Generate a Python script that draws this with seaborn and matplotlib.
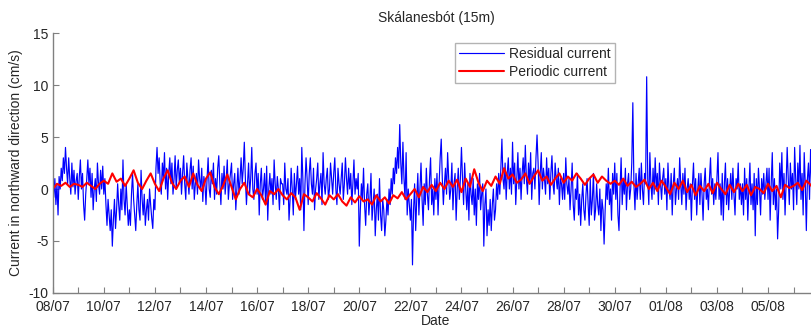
import numpy as np
import pandas as pd
import seaborn as sns
import matplotlib
matplotlib.use('Agg')
import matplotlib.pyplot as plt

# residual current, hourly from 08/07 00:00 (cm/s), one row per day
residual = [
    0.2, -0.8, 1.0, -1.5, 0.5, -2.5, 1.2, 0.0, 2.0, 0.8, 3.0, 1.5, 4.0, 2.0, 0.5, 3.0, 1.0, -0.5, 2.5, 0.2, 1.8, -0.5, 0.8, 1.5,
    -1.0, 1.2, 2.8, 0.0, 1.5, -1.5, -3.0, -0.5, 1.0, 2.8, 0.5, 2.0, -0.8, 1.5, -2.0, 0.0, 1.0, -1.2, 2.5, 0.5, -0.5, 1.8, 0.0, 2.2,
    -0.5, 1.0, -1.5, -3.5, -1.0, -2.5, -4.0, -2.0, -5.5, -3.0, -1.0, -3.8, -2.0, 0.5, -1.5, -3.0, 0.0, -2.0, 2.8, -1.0, -2.5, 0.5, -1.5, -3.5,
    -2.0, -3.5, -0.5, 1.5, -1.0, -2.5, -4.0, -1.5, 0.5, -2.0, -3.0, 1.8, -1.0, -2.5, -0.5, -3.5, -2.0, -1.0, -3.0, 0.0, -1.5, -2.8, -3.8, -1.0,
    -2.0, 2.0, 4.0, 1.5, 3.0, 0.5, -0.5, 2.5, 1.0, 3.5, 0.0, 2.0, -1.0, 1.5, 3.0, 0.5, 2.5, -0.5, 1.0, 3.2, 0.0, 1.8, 2.8, 0.5,
    2.0, -0.5, 1.5, 3.2, 0.5, -1.0, 2.5, 1.0, -0.5, 1.8, 3.0, 0.0, 2.2, -1.0, 0.5, 1.5, -0.5, 2.8, 1.0, 0.0, 2.0, -1.2, 1.2, 0.5,
    -1.5, 1.0, 3.0, 0.0, -0.8, 1.8, 0.5, 2.5, -1.0, 1.0, -0.5, 2.0, 3.2, 0.5, -1.5, 1.5, 0.0, 2.2, -0.5, 1.0, 2.8, -1.0, 0.5, 1.5,
    2.5, -1.0, 0.5, 1.5, -2.0, 0.0, 2.0, -0.5, 1.0, 3.0, 0.5, 2.0, 4.5, 1.0, -1.5, 0.5, 2.5, -0.5, 1.0, 4.0, 0.0, -1.0, 1.5, 2.5,
    -0.5, 1.5, -2.5, 0.5, 2.0, -1.0, 0.0, 1.5, -1.5, 2.2, -3.0, 0.0, 1.5, -0.5, 1.0, -1.5, 2.8, 0.5, -1.0, 1.2, 0.0, -2.0, 1.0, 0.5,
    0.5, -1.5, 2.5, 0.0, -0.5, 1.0, -3.0, -1.0, 2.0, 0.0, -2.5, 1.5, -1.0, 0.5, 2.2, -0.5, 1.0, -2.0, 4.0, 1.0, -4.0, 0.5, 3.0, 1.0,
    -1.5, 1.5, 3.0, 0.5, -0.5, 2.0, -2.0, 0.0, 1.0, 2.5, -1.0, 0.5, 1.5, -1.5, 3.5, 0.5, -0.5, 1.0, 2.0, -1.0, 0.0, 2.5, 1.0, -0.5,
    1.5, 3.0, 0.0, -1.5, 2.0, 0.5, -0.5, 1.0, 2.5, -1.0, 0.5, 3.0, 1.0, -0.5, 2.0, 0.0, 1.5, -1.5, 0.5, 2.8, -0.5, 1.0, 0.0, 1.5,
    -5.5, -2.0, 0.5, -1.0, 2.0, -1.5, -3.5, -0.5, 0.5, -2.5, -1.0, 1.5, -3.0, -1.5, 0.0, -4.5, -2.0, -0.5, -3.0, 1.0, -2.5, -4.0, -1.0, -2.0,
    -4.5, -3.0, -1.0, -2.5, 0.0, -1.5, 1.0, -0.5, 2.0, 0.5, 3.0, 1.5, 4.0, 2.0, 6.2, 2.5, 0.5, 4.5, 1.0, -1.0, 3.5, -2.5, 0.0, -1.5,
    -3.0, -1.0, -7.3, -2.0, 0.5, -4.0, -1.0, 1.5, -2.5, 0.0, 2.5, -1.0, -3.5, 0.5, -1.5, 2.0, -0.5, -2.0, 1.0, 3.0, -1.5, 0.0, -2.5, 1.0,
    -1.0, 1.5, -2.5, 0.5, 3.0, 4.8, 1.0, -1.5, 0.5, 2.0, -0.5, 3.5, 1.0, -1.0, 0.0, 2.5, -2.0, 0.5, 1.5, -3.0, 0.0, 2.0, -1.0, 1.0,
    4.0, 1.0, -1.5, 2.5, 0.0, -2.0, 0.5, -3.0, 1.5, -0.5, -1.5, 1.0, -2.5, 0.0, -3.5, 0.5, -1.0, 1.5, -2.0, -0.5, 0.5, -5.5, -1.5, 0.0,
    -4.5, -2.0, -3.5, -1.0, -4.0, -1.5, 0.0, -3.0, -2.0, 0.5, -1.0, 1.5, -0.5, 2.0, 4.8, 1.0, 0.0, 2.5, -1.0, 1.5, 3.0, 0.0, 2.0, -0.5,
    4.5, 0.5, 2.5, -1.5, 1.0, 3.5, 0.0, 2.0, -1.0, 1.5, 3.0, 0.5, 4.2, 1.0, -0.5, 2.5, 0.5, 3.5, -1.0, 1.5, 2.0, 0.0, 3.0, 5.2,
    2.5, -1.5, 1.5, 3.5, 0.0, 2.0, 1.0, -0.5, 3.0, 0.5, 2.0, -1.0, 1.5, 3.2, 0.5, -0.5, 2.5, 1.0, 0.0, 2.0, -1.5, 1.0, 0.5, -1.0,
    1.5, -1.0, 3.0, 0.5, -0.5, 1.0, -2.0, 0.0, 2.5, -1.5, -3.0, 0.0, -1.0, 1.5, -2.5, -0.5, -3.5, -1.0, 0.5, -2.0, -3.0, -0.5, 1.0, -1.5,
    -3.5, 1.0, -2.5, -1.0, 1.5, -3.0, -2.0, 0.5, -1.5, -2.5, 0.0, -4.0, -1.0, -2.0, -5.3, -2.0, 0.5, -1.0, 2.0, -1.5, 0.0, -3.0, 1.5, -0.5,
    2.5, -1.0, 1.5, -2.5, -4.0, 0.0, 3.0, -1.5, 1.0, -0.5, 2.0, -2.0, 0.5, 1.5, -1.0, 0.0, 2.5, 8.3, 0.5, -2.0, 1.5, -1.0, 0.5, 2.0,
    -1.0, 2.5, 0.0, -1.5, 1.5, 0.5, 10.8, 1.0, -1.5, 3.5, 0.5, -1.0, 2.0, -0.5, 3.0, 0.0, 1.5, -1.5, 2.5, 0.5, -1.0, 1.0, 2.0, -0.5,
    1.0, -2.0, 2.5, 0.0, -1.0, 1.5, -2.5, 0.5, 2.0, -1.5, 0.0, 1.0, -1.0, 3.0, 0.5, -1.5, 1.5, -0.5, 2.0, -2.0, 0.0, 1.0, -1.0, 0.5,
    -3.0, 0.5, 2.5, -1.0, 1.0, -2.5, 0.0, 1.5, -1.5, 1.5, -0.5, -3.0, 0.5, 2.0, -1.0, 0.0, -2.0, 1.0, 3.0, -0.5, 1.0, -1.5, 0.5, -1.0,
    1.0, 3.5, -1.0, 0.5, -2.5, 1.5, -3.0, 0.5, 2.5, -1.5, 1.0, -2.0, 0.0, 1.5, -1.0, 2.0, -0.5, -2.5, 1.0, 0.0, 2.5, -1.0, 0.5, -1.5,
    0.5, -2.5, 2.0, -1.0, 1.0, -3.0, 0.0, 2.5, -1.5, 0.5, -2.0, 1.5, -4.5, 1.0, -1.5, 2.0, 0.0, -2.5, 1.0, -0.5, 1.5, -1.0, 0.5, 2.0,
    -1.0, 2.0, -3.0, 0.5, 3.5, -1.5, 1.0, -2.0, 0.0, -4.8, -2.0, 2.5, 0.0, 3.5, -1.0, 1.5, -2.5, 0.5, 4.0, 1.0, -1.5, 2.5, 0.0, 1.5,
    -2.0, 4.0, 1.0, -1.5, 2.5, 0.0, 4.2, -1.0, 1.5, -2.5, 3.5, 0.5, -4.0, 1.0, 2.5, -1.0, 3.8, 0.5, -1.5, 2.0, 0.0, 3.0, -2.0, 1.0,
    0.5,
]

# periodic current, 4-hourly from 08/07 00:00 (cm/s)
periodic = [
    0.0, 0.5, 0.3, 0.6, 0.2, 0.5,
    0.4, 0.2, 0.6, 0.3, 0.0, 0.5,
    0.8, 0.5, 1.5, 0.7, 1.0, 0.3,
    1.0, 1.8, 0.6, 0.0, 0.8, 1.5,
    0.5, -0.2, 1.0, 1.8, 0.6, 0.0,
    0.8, 1.2, 0.2, 1.5, 0.4, -0.2,
    1.0, 1.6, 0.2, -0.5, 0.3, 1.4,
    0.2, -1.0, 0.0, 0.6, -0.5, -0.8,
    0.0, -0.6, -1.5, -0.2, -0.5, 0.0,
    -0.6, -1.0, -0.4, -0.8, -2.0, -0.5,
    -0.8, -1.2, -0.4, -0.9, -1.5, -0.6,
    -1.0, -0.5, -1.2, -1.6, -0.8, -1.3,
    -0.7, -1.2, -1.0, -1.5, -0.6, -1.2,
    -0.8, -1.4, -0.6, -0.9, -0.3, -1.0,
    -0.5, 0.0, -0.8, 0.2, -0.3, 0.4,
    -0.2, 0.6, 0.0, 0.8, 0.2, 0.9,
    -0.3, 1.0, 0.2, 1.9, 0.6, -0.2,
    0.8, 0.3, 1.2, 0.5, 2.0, 1.0,
    1.4, 0.6, 0.9, 1.5, 0.5, 1.2,
    1.8, 0.8, 1.2, 0.4, 1.0, 1.5,
    0.6, 1.2, 0.8, 1.5, 1.0, 0.4,
    1.0, 1.4, 0.6, 1.2, 0.8, 0.5,
    0.8, 0.4, 1.0, 0.3, 0.7, 0.2,
    0.5, 0.9, 0.0, 0.6, -0.2, 0.8,
    0.2, -0.5, 0.6, 0.0, 0.8, -0.3,
    0.4, -0.6, 0.3, -0.2, 0.5, -0.4,
    0.6, 0.0, -0.5, 0.4, -0.3, 0.5,
    -0.2, 0.4, -0.6, 0.2, 0.0, -0.4,
    0.5, -0.2, 0.3, -0.8, 0.4, 0.1,
    0.3, 0.6, -0.1, 0.8, 0.4, -0.2,
    0.2,
]

start = '2010-07-08'
tick_labels = ['08/07', '10/07', '12/07', '14/07', '16/07', '18/07', '20/07',
               '22/07', '24/07', '26/07', '28/07', '30/07', '01/08', '03/08', '05/08']
y_ticks = [-10, -5, 0, 5, 10, 15]

df_res = pd.DataFrame({'date': pd.date_range(start, periods=len(residual), freq='1h'),
                       'val': residual})
df_per = pd.DataFrame({'date': pd.date_range(start, periods=len(periodic), freq='4h'),
                       'val': periodic})

sns.set_style('white')
plt.rcParams['font.family'] = ['Liberation Sans', 'DejaVu Sans']

fig = plt.figure(figsize=(8.11, 3.31), dpi=100)
ax = fig.add_axes([0.065, 0.115, 0.945, 0.785])

sns.lineplot(data=df_res, x='date', y='val', color='#0000ff', lw=0.85,
             label='Residual current', ax=ax)
sns.lineplot(data=df_per, x='date', y='val', color='#ff0000', lw=1.5,
             label='Periodic current', ax=ax)

days = pd.date_range(start, periods=31, freq='D')
ax.set_xticks(days)
labs = []
for i in range(31):
    labs.append(tick_labels[i // 2] if i % 2 == 0 and i // 2 < len(tick_labels) else '')
ax.set_xticklabels(labs, fontsize=10)
ax.set_xlim(days[0], days[-1])
ax.set_ylim(-10, 15)
ax.set_yticks(y_ticks)
ax.set_yticklabels([str(v) for v in y_ticks], fontsize=10)

ax.tick_params(bottom=True, left=True, direction='in', length=4, color='#808080', width=0.8)
ax.tick_params(axis='x', pad=5)
ax.tick_params(axis='y', pad=3)
for s in ['top', 'right']:
    ax.spines[s].set_visible(False)
for s in ['left', 'bottom']:
    ax.spines[s].set_color('#808080')
    ax.spines[s].set_linewidth(1.0)

ax.set_xlabel('Date', fontsize=10, labelpad=0)
ax.set_ylabel('Current in northward direction (cm/s)', fontsize=10, labelpad=4)
ax.set_title('Skálanesbót (15m)', fontsize=10, pad=8)

leg = ax.legend(loc='upper left', bbox_to_anchor=(0.516, 0.99), fontsize=10,
                fancybox=False, frameon=True, edgecolor='#a0a0a0',
                handlelength=3.2, borderpad=0.3, labelspacing=0.3, handletextpad=0.4)
leg.get_frame().set_linewidth(1.0)

fig.savefig('out.png', dpi=100)
plt.close()
